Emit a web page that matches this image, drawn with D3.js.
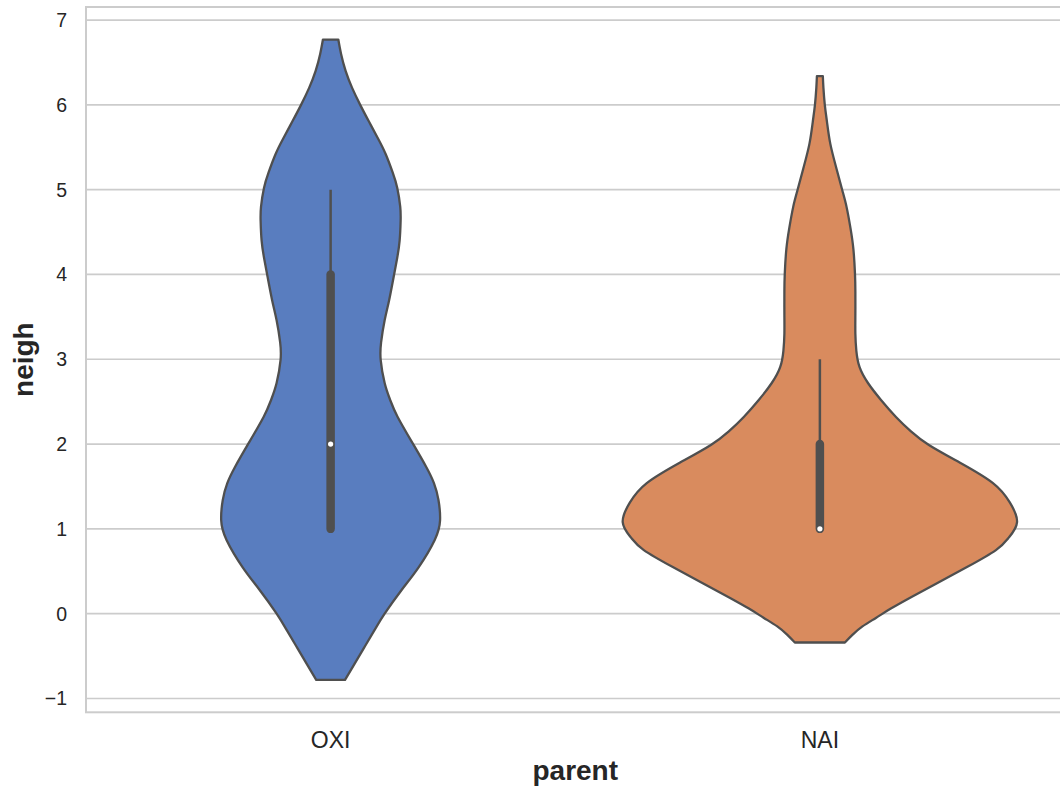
<!DOCTYPE html>
<html>
<head>
<meta charset="utf-8">
<script src="https://cdn.jsdelivr.net/npm/d3@7/dist/d3.min.js"></script>
<style>
  html, body { margin: 0; padding: 0; background: #fff; }
  svg { display: block; font-family: "Liberation Sans", Arial, sans-serif; }
</style>
</head>
<body>
<svg id="chart" width="1060" height="789"></svg>
<script>
// Categories and colours
const categories = ["OXI", "NAI"];
const colors = ["#597dbf", "#d98b5e"];

// Kernel density profiles: value levels and relative half-widths (1 = widest violin)
const oxiLevels = [-0.78, -0.6, -0.4, -0.2, 0.0, 0.28, 0.55, 0.87, 1.1, 1.34, 1.54, 1.73, 1.99, 2.32, 2.52, 2.72, 2.99, 3.2, 3.46, 3.7, 4.0, 4.2, 4.4, 4.63, 4.8, 5.02, 5.2, 5.42, 5.6, 5.8, 6.0, 6.2, 6.4, 6.6, 6.77];
const oxiDensity = [0.073, 0.119, 0.170, 0.221, 0.274, 0.360, 0.447, 0.528, 0.555, 0.547, 0.524, 0.485, 0.421, 0.340, 0.302, 0.274, 0.254, 0.256, 0.274, 0.297, 0.322, 0.338, 0.350, 0.355, 0.353, 0.338, 0.315, 0.279, 0.241, 0.195, 0.150, 0.109, 0.076, 0.053, 0.039];

const naiLevels = [-0.34, -0.25, -0.15, -0.05, 0.06, 0.2, 0.36, 0.55, 0.75, 0.9, 1.08, 1.31, 1.54, 1.78, 1.99, 2.15, 2.32, 2.52, 2.72, 2.91, 3.1, 3.3, 3.54, 3.8, 4.01, 4.3, 4.55, 4.8, 4.99, 5.25, 5.54, 5.8, 6.0, 6.2, 6.34];
const naiDensity = [0.127, 0.165, 0.216, 0.284, 0.360, 0.467, 0.594, 0.746, 0.893, 0.959, 1.0, 0.964, 0.878, 0.711, 0.553, 0.462, 0.386, 0.310, 0.244, 0.201, 0.185, 0.180, 0.180, 0.180, 0.178, 0.170, 0.155, 0.135, 0.114, 0.084, 0.053, 0.036, 0.025, 0.018, 0.015];

// Box summaries: [whisker low, Q1, median, Q3, whisker high]
const oxiBox = [1, 1, 2, 4, 5];
const naiBox = [1, 1, 1, 2, 3];

// Axis ticks
const yTicks = [-1, 0, 1, 2, 3, 4, 5, 6, 7];
const yDomain = [-1.163, 7.154];

const groups = [
  { name: categories[0], color: colors[0], levels: oxiLevels, density: oxiDensity, box: oxiBox },
  { name: categories[1], color: colors[1], levels: naiLevels, density: naiDensity, box: naiBox }
];

const svg = d3.select("#chart");
const plotLeft = 86, plotRight = 1064.5, plotTop = 7, plotBottom = 712.3;

const x = d3.scaleBand().domain(categories).range([plotLeft, plotRight]).padding(0);
const y = d3.scaleLinear().domain(yDomain).range([plotBottom, plotTop]);
const w = d3.scaleLinear().domain([0, 1]).range([0, x.bandwidth() * 0.403]);

const gridColor = "#cccccc";
const edge = "#4f4f4f";

// Horizontal grid lines
svg.append("g")
  .selectAll("line")
  .data(yTicks)
  .join("line")
  .attr("x1", plotLeft).attr("x2", plotRight)
  .attr("y1", d => y(d)).attr("y2", d => y(d))
  .attr("stroke", gridColor).attr("stroke-width", 1.7);

// Frame
svg.append("rect")
  .attr("x", plotLeft).attr("y", plotTop)
  .attr("width", plotRight - plotLeft).attr("height", plotBottom - plotTop)
  .attr("fill", "none").attr("stroke", gridColor).attr("stroke-width", 2);

// Y tick labels
svg.append("g")
  .selectAll("text")
  .data(yTicks)
  .join("text")
  .attr("x", 67).attr("y", d => y(d))
  .attr("dy", "0.36em")
  .attr("text-anchor", "end")
  .attr("font-size", 19.5)
  .attr("fill", "#262626")
  .text(d => d < 0 ? "\u2212" + Math.abs(d) : d);

// X tick labels
svg.append("g")
  .selectAll("text")
  .data(categories)
  .join("text")
  .attr("x", d => x(d) + x.bandwidth() / 2)
  .attr("y", 748)
  .attr("text-anchor", "middle")
  .attr("font-size", 23)
  .attr("fill", "#262626")
  .text(d => d);

// Axis titles
svg.append("text")
  .attr("x", (plotLeft + plotRight) / 2).attr("y", 780)
  .attr("text-anchor", "middle")
  .attr("font-size", 28).attr("font-weight", "bold")
  .attr("fill", "#262626")
  .text("parent");

svg.append("text")
  .attr("transform", `translate(33, ${(plotTop + plotBottom) / 2}) rotate(-90)`)
  .attr("text-anchor", "middle")
  .attr("font-size", 28).attr("font-weight", "bold")
  .attr("fill", "#262626")
  .text("neigh");

// Violins
groups.forEach(g => {
  const cx = x(g.name) + x.bandwidth() / 2;
  const pts = g.levels.map((v, i) => ({ v, d: g.density[i] }));
  const area = d3.area()
    .y(p => y(p.v))
    .x0(p => cx - w(p.d))
    .x1(p => cx + w(p.d))
    .curve(d3.curveNatural);

  svg.append("path")
    .datum(pts)
    .attr("d", area)
    .attr("fill", g.color)
    .attr("stroke", edge)
    .attr("stroke-width", 2.3)
    .attr("stroke-linejoin", "round");

  const [lo, q1, med, q3, hi] = g.box;
  // whisker
  svg.append("line")
    .attr("x1", cx).attr("x2", cx)
    .attr("y1", y(lo)).attr("y2", y(hi))
    .attr("stroke", edge).attr("stroke-width", 2.5);
  // interquartile box
  svg.append("line")
    .attr("x1", cx).attr("x2", cx)
    .attr("y1", y(q1)).attr("y2", y(q3))
    .attr("stroke", edge).attr("stroke-width", 8.5)
    .attr("stroke-linecap", "round");
  // median
  svg.append("circle")
    .attr("cx", cx).attr("cy", y(med))
    .attr("r", 2.6)
    .attr("fill", "#ffffff");
});
</script>
</body>
</html>
